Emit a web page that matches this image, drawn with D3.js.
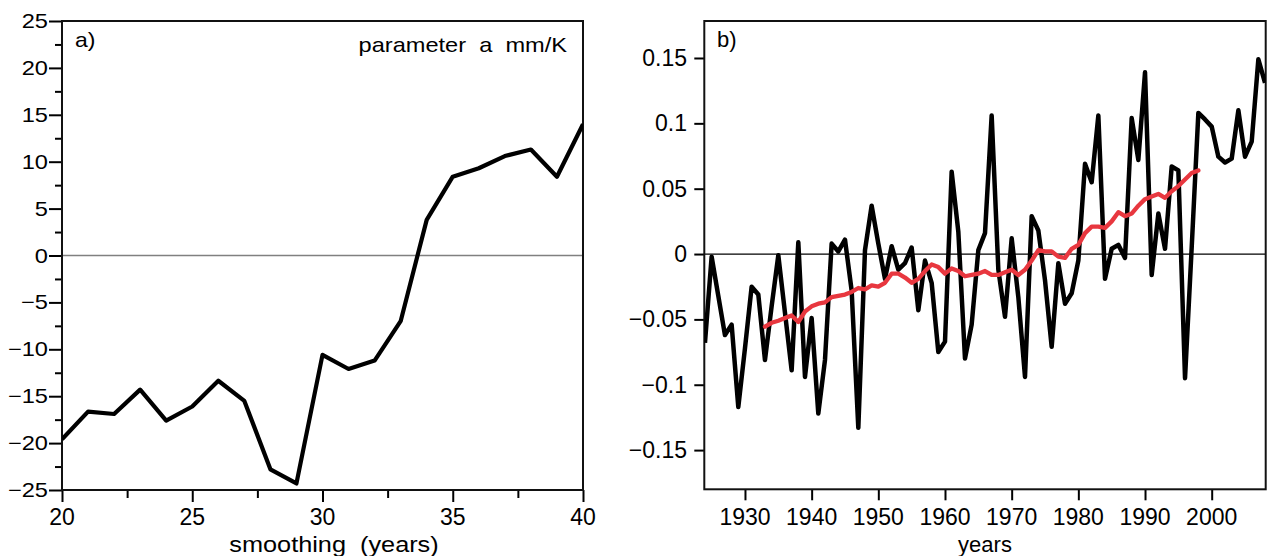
<!DOCTYPE html>
<html>
<head>
<meta charset="utf-8">
<script src="https://cdn.jsdelivr.net/npm/d3@7"></script>
<style>
  html, body { margin: 0; padding: 0; background: #ffffff; }
  svg { display: block; }
  text { font-family: "Liberation Sans", Arial, Helvetica, sans-serif; fill: #000; }
</style>
</head>
<body>
<svg id="chart" width="1267" height="556"></svg>
<script>
// ---------------- DATA ----------------
// Panel a: parameter a (mm/K) versus smoothing window (years)
const smoothingYears = [20, 21, 22, 23, 24, 25, 26, 27, 28, 29, 30, 31, 32, 33, 34, 35, 36, 37, 38, 39, 40];
const parameterA = [-19.6, -16.65, -16.9, -14.3, -17.6, -16.1, -13.35, -15.5, -22.8, -24.3,
                    -10.6, -12.1, -11.2, -7.0, 3.8, 8.4, 9.3, 10.6, 11.3, 8.4, 14.0];
const aYTicks = [-25, -20, -15, -10, -5, 0, 5, 10, 15, 20, 25];
const aYTickLabels = ["\u221225", "\u221220", "\u221215", "\u221210", "\u22125", "0", "5", "10", "15", "20", "25"];
const aYMinorTicks = [-22.5, -17.5, -12.5, -7.5, -2.5, 2.5, 7.5, 12.5, 17.5, 22.5];
const aXTicks = [20, 25, 30, 35, 40];
const aXTickLabels = ["20", "25", "30", "35", "40"];
const aXMinorTicks = [22.5, 27.5, 32.5, 37.5];

// Panel b: annual series (black) and its running mean (red)
const annualYears = d3.range(1924, 2009);
const annualValues = [
  -0.068, -0.002, -0.032, -0.062, -0.054, -0.117, -0.072, -0.025, -0.031, -0.081, // 1924-1933
  -0.040, -0.001, -0.045, -0.089,  0.009, -0.094, -0.049, -0.122, -0.081,  0.008, // 1934-1943
   0.002,  0.011, -0.028, -0.133,  0.003,  0.037,  0.008, -0.019,  0.006, -0.012, // 1944-1953
  -0.007,  0.005, -0.043, -0.005, -0.022, -0.075, -0.067,  0.063,  0.017, -0.080, // 1954-1963
  -0.054,  0.003,  0.016,  0.106, -0.012, -0.048,  0.012, -0.033, -0.094,  0.029, // 1964-1973
   0.018, -0.020, -0.071, -0.007, -0.038, -0.030, -0.005,  0.069,  0.055,  0.106, // 1974-1983
  -0.019,  0.004,  0.007, -0.003,  0.104,  0.072,  0.139, -0.016,  0.031,  0.004, // 1984-1993
   0.067,  0.064, -0.095,  0.005,  0.108,  0.103,  0.0975, 0.0745, 0.070, 0.073, // 1994-2003
   0.110,  0.0745, 0.086, 0.149,  0.131                                          // 2004-2008
];
const meanYears = d3.range(1933, 1999);
const meanValues = [
  -0.0556, -0.0526, -0.051, -0.049, -0.047, -0.052, -0.044, -0.040, -0.038, -0.037, // 1933-1942
  -0.033, -0.032, -0.031, -0.029, -0.026, -0.027, -0.024, -0.025, -0.022, -0.015,   // 1943-1952
  -0.015, -0.018, -0.022, -0.019, -0.013, -0.008, -0.010, -0.015, -0.011, -0.013,   // 1953-1962
  -0.017, -0.016, -0.015, -0.013, -0.016, -0.016, -0.014, -0.012, -0.016, -0.012,   // 1963-1972
  -0.005,  0.003,  0.002,  0.002, -0.002, -0.003,  0.004,  0.007,  0.016,  0.021,   // 1973-1982
   0.021,  0.020,  0.025,  0.032,  0.029,  0.031,  0.037,  0.042,  0.044,  0.046,   // 1983-1992
   0.043,  0.048,  0.052,  0.057,  0.062,  0.064                                     // 1993-1998
];
const bYTicks = [-0.15, -0.1, -0.05, 0, 0.05, 0.1, 0.15];
const bYTickLabels = ["\u22120.15", "\u22120.1", "\u22120.05", "0", "0.05", "0.1", "0.15"];
const bXTicks = [1930, 1940, 1950, 1960, 1970, 1980, 1990, 2000];
const bXTickLabels = ["1930", "1940", "1950", "1960", "1970", "1980", "1990", "2000"];

// ---------------- DRAWING ----------------
const svg = d3.select("#chart");

// ===== Panel a =====
const aLeft = 62, aRight = 583, aTop = 21, aBottom = 490;
const ax = d3.scaleLinear().domain([20, 40]).range([aLeft, aRight]);
const ay = d3.scaleLinear().domain([-25, 25]).range([aBottom, aTop]);
const gA = svg.append("g");

gA.append("defs").append("clipPath").attr("id", "clipA")
  .append("rect").attr("x", aLeft).attr("y", aTop).attr("width", aRight - aLeft).attr("height", aBottom - aTop);

// zero line
gA.append("line")
  .attr("x1", aLeft).attr("x2", aRight).attr("y1", ay(0)).attr("y2", ay(0))
  .attr("stroke", "#808080").attr("stroke-width", 1.5);

// axes ticks
function styleAxis(g) {
  g.select(".domain").remove();
  g.selectAll(".tick line").attr("stroke", "#000").attr("stroke-width", 2);
  g.selectAll(".tick text").remove();
}
gA.append("g").attr("transform", `translate(${aLeft},0)`)
  .call(d3.axisLeft(ay).tickValues(aYTicks).tickSize(13).tickFormat(""))
  .call(styleAxis);
gA.append("g").attr("transform", `translate(${aLeft},0)`)
  .call(d3.axisLeft(ay).tickValues(aYMinorTicks).tickSize(7).tickFormat(""))
  .call(styleAxis);
gA.append("g").attr("transform", `translate(0,${aBottom})`)
  .call(d3.axisBottom(ax).tickValues(aXTicks).tickSize(12).tickFormat(""))
  .call(styleAxis);
gA.append("g").attr("transform", `translate(0,${aBottom})`)
  .call(d3.axisBottom(ax).tickValues(aXMinorTicks).tickSize(8).tickFormat(""))
  .call(styleAxis);

// y tick labels (slightly wide lettering as in the original)
gA.selectAll("text.ya").data(aYTicks).enter().append("text")
  .attr("class", "ya")
  .attr("transform", d => `translate(48,${ay(d) + 7}) scale(1.18,1)`)
  .attr("text-anchor", "end")
  .attr("font-size", 20)
  .text((d, i) => aYTickLabels[i]);
// x tick labels
gA.selectAll("text.xa").data(aXTicks).enter().append("text")
  .attr("class", "xa")
  .attr("x", d => ax(d)).attr("y", 525)
  .attr("text-anchor", "middle")
  .attr("font-size", 23)
  .text((d, i) => aXTickLabels[i]);

// frame
gA.append("rect")
  .attr("x", aLeft).attr("y", aTop).attr("width", aRight - aLeft).attr("height", aBottom - aTop)
  .attr("fill", "none").attr("stroke", "#111").attr("stroke-width", 2);

// data line
gA.append("path")
  .datum(smoothingYears.map((d, i) => [d, parameterA[i]]))
  .attr("clip-path", "url(#clipA)")
  .attr("fill", "none").attr("stroke", "#000").attr("stroke-width", 4.2)
  .attr("stroke-linejoin", "round")
  .attr("d", d3.line().x(d => ax(d[0])).y(d => ay(d[1])));

// labels
gA.append("text").attr("transform", "translate(75,47) scale(1.15,1)")
  .attr("font-size", 20).text("a)");
gA.append("text").attr("transform", "translate(567,52) scale(1.18,1)")
  .attr("text-anchor", "end").attr("font-size", 20)
  .attr("xml:space", "preserve")
  .text("parameter  a  mm/K");
gA.append("text").attr("transform", "translate(334,552) scale(1.15,1)")
  .attr("text-anchor", "middle").attr("font-size", 22)
  .attr("xml:space", "preserve")
  .text("smoothing  (years)");

// ===== Panel b =====
const bLeft = 704.3, bRight = 1265.7, bTop = 21, bBottom = 489.3;
const bx = d3.scaleLinear().domain([1923.9, 2008.1]).range([bLeft, bRight]);
const by = d3.scaleLinear().domain([-0.18, 0.1783]).range([bBottom, bTop]);
const gB = svg.append("g");

gB.append("defs").append("clipPath").attr("id", "clipB")
  .append("rect").attr("x", bLeft).attr("y", bTop).attr("width", bRight - bLeft).attr("height", bBottom - bTop);

gB.append("line")
  .attr("x1", bLeft).attr("x2", bRight).attr("y1", by(0)).attr("y2", by(0))
  .attr("stroke", "#000").attr("stroke-width", 1.2);

gB.append("g").attr("transform", `translate(${bLeft},0)`)
  .call(d3.axisLeft(by).tickValues(bYTicks).tickSize(10).tickFormat(""))
  .call(styleAxis);
gB.append("g").attr("transform", `translate(0,${bBottom})`)
  .call(d3.axisBottom(bx).tickValues(bXTicks).tickSize(11).tickFormat(""))
  .call(styleAxis);

gB.selectAll("text.yb").data(bYTicks).enter().append("text")
  .attr("class", "yb")
  .attr("x", 687).attr("y", d => by(d) + 8)
  .attr("text-anchor", "end")
  .attr("font-size", 23)
  .text((d, i) => bYTickLabels[i]);
gB.selectAll("text.xb").data(bXTicks).enter().append("text")
  .attr("class", "xb")
  .attr("x", d => bx(d)).attr("y", 525)
  .attr("text-anchor", "middle")
  .attr("font-size", 23)
  .text((d, i) => bXTickLabels[i]);

gB.append("rect")
  .attr("x", bLeft).attr("y", bTop).attr("width", bRight - bLeft).attr("height", bBottom - bTop)
  .attr("fill", "none").attr("stroke", "#111").attr("stroke-width", 2);

const lineB = d3.line().x(d => bx(d[0])).y(d => by(d[1]));
gB.append("path")
  .datum(annualYears.map((d, i) => [d, annualValues[i]]))
  .attr("clip-path", "url(#clipB)")
  .attr("fill", "none").attr("stroke", "#000").attr("stroke-width", 4.5)
  .attr("stroke-linejoin", "round")
  .attr("d", lineB);
gB.append("path")
  .datum(meanYears.map((d, i) => [d, meanValues[i]]))
  .attr("clip-path", "url(#clipB)")
  .attr("fill", "none").attr("stroke", "#e8373f").attr("stroke-width", 4.3)
  .attr("stroke-linejoin", "round").attr("stroke-linecap", "round")
  .attr("d", lineB);

gB.append("text").attr("x", 717).attr("y", 47).attr("font-size", 22).text("b)");
gB.append("text").attr("x", 985).attr("y", 552)
  .attr("text-anchor", "middle").attr("font-size", 22).text("years");
</script>
</body>
</html>
